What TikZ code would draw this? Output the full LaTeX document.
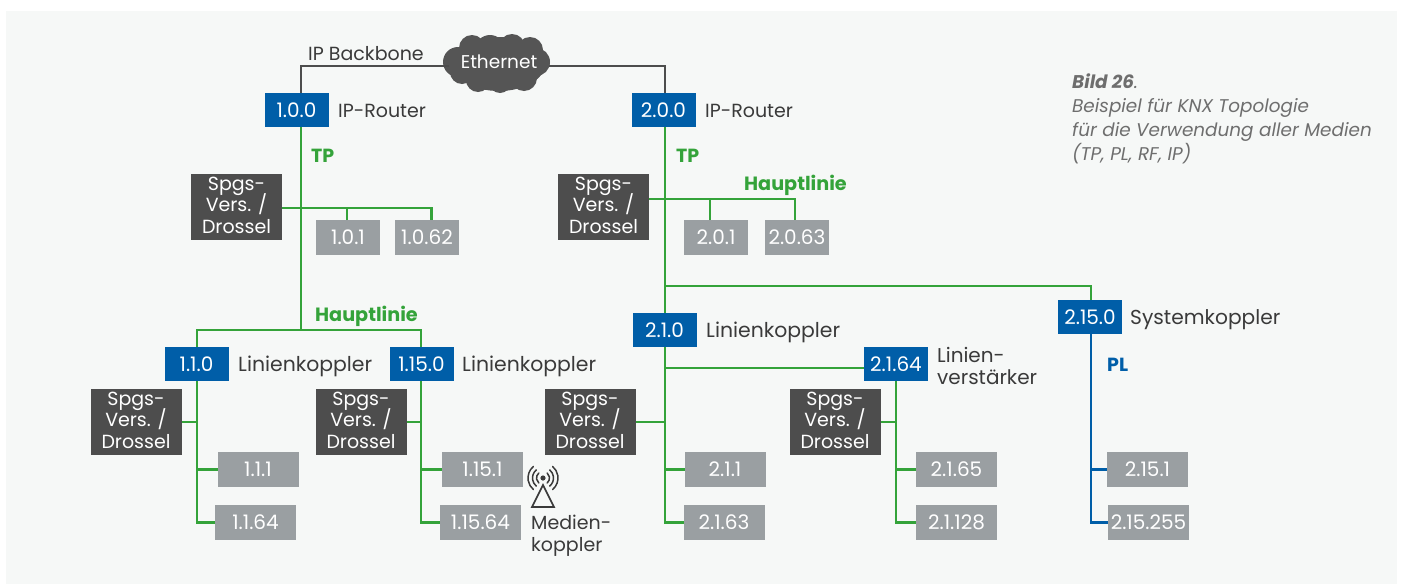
\documentclass[tikz,border=0pt]{standalone}
\usepackage{fontspec}
\setmainfont{Poppins}
\usetikzlibrary{calc}
\definecolor{bgc}{HTML}{F6F8F7}
\definecolor{bluec}{HTML}{005EA8}
\definecolor{darkc}{HTML}{4D4D4D}
\definecolor{greyc}{HTML}{9A9FA2}
\definecolor{greenc}{HTML}{34A33A}
\definecolor{textc}{HTML}{3A3A3A}
\definecolor{capc}{HTML}{6E6E6E}
\definecolor{cloudc}{HTML}{555555}
\newcommand{\fs}[2]{\fontsize{#1}{#2}\selectfont}
\newcommand{\tightl}{\lineskiplimit=-100pt\relax}
\tikzset{
  box/.style={inner sep=0pt,outer sep=0pt,text=white,align=center},
  bluebox/.style={box,fill=bluec,minimum width=64pt,minimum height=34pt,font=\fs{20}{22}},
  darkbox/.style={box,fill=darkc,minimum width=91pt,minimum height=66pt,font=\fs{19}{21.5}\tightl},
  greybox/.style={box,fill=greyc,minimum width=81pt,minimum height=35pt,font=\fs{20}{22}},
  smallgrey/.style={greybox,minimum width=64pt},
  lab/.style={anchor=west,inner sep=0pt,text=textc,font=\fs{19}{22}\tightl,align=left},
  klab/.style={lab,font=\fs{20.4}{22}},
  glab/.style={anchor=west,inner sep=0pt,text=greenc,font=\fs{19}{22}\bfseries},
  hlab/.style={anchor=west,inner sep=0pt,text=greenc,font=\fs{19.2}{22}\bfseries},
  gl/.style={draw=greenc,line width=2.8pt},
  bl/.style={draw=bluec,line width=2.8pt},
  kl/.style={draw=darkc,line width=2.4pt}
}
\newcommand{\spgs}{Spgs-\\Vers. /\\Drossel\rule[-4pt]{0pt}{4pt}}
\begin{document}
\begin{tikzpicture}[x=1pt,y=-1pt]
\useasboundingbox (0,0) rectangle (1403,584);
\fill[white] (0,0) rectangle (1403,584);
\fill[bgc] (6,11) rectangle (1397,584);

% cloud
\fill[cloudc] (499,64) ellipse (46pt and 27pt);
\foreach \cx/\cy/\cr in {458/62/15,472/48/13,490/50/15,512/47/13,530/50/13,536/62/14,524/78/13,500/82/11,478/80/12,462/72/12}
  \fill[cloudc] (\cx,\cy) circle (\cr pt);
\node[inner sep=0pt,outer sep=0pt,minimum width=100pt,minimum height=16pt,text=white,font=\fs{18.5}{20}] (eth) at (499,62) {Ethernet};

% blue boxes
\node[bluebox] (r1) at (296.5,110) {1.0.0};
\node[bluebox] (r2) at (663.5,110) {2.0.0};
\node[bluebox] (k11) at (196.5,364) {1.1.0};
\node[bluebox] (k115) at (421.5,364) {1.15.0};
\node[bluebox] (k21) at (664.5,330) {2.1.0};
\node[bluebox] (k264) at (896,364) {2.1.64};
\node[bluebox] (k215) at (1090,317) {2.15.0};

% dark boxes
\node[darkbox] (d1) at (236.5,207) {\spgs};
\node[darkbox] (d2) at (603.5,207) {\spgs};
\node[darkbox] (d3) at (136,422) {\spgs};
\node[darkbox] (d4) at (361,422) {\spgs};
\node[darkbox] (d5) at (590,422) {\spgs};
\node[darkbox] (d6) at (835,422) {\spgs};

% grey boxes
\node[smallgrey] (g101) at (348,237.5) {1.0.1};
\node[smallgrey] (g1062) at (427,237.5) {1.0.62};
\node[smallgrey] (g201) at (716,237.5) {2.0.1};
\node[smallgrey] (g2063) at (797,237.5) {2.0.63};
\node[greybox] (g111) at (258,469.5) {1.1.1};
\node[greybox] (g1164) at (255.5,522.5) {1.1.64};
\node[greybox] (g1151) at (482.5,469.5) {1.15.1};
\node[greybox] (g11564) at (480.5,522.5) {1.15.64};
\node[greybox] (g211) at (725,469.5) {2.1.1};
\node[greybox] (g2163) at (724,522.5) {2.1.63};
\node[greybox] (g2165) at (956.5,469.5) {2.1.65};
\node[greybox] (g21128) at (956.5,522.5) {2.1.128};
\node[greybox] (g2151) at (1147.5,469.5) {2.15.1};
\node[greybox] (g215255) at (1148.5,522.5) {2.15.255};

% spine coordinates
\coordinate (sa) at (301,0);
\coordinate (sb) at (665,0);
\coordinate (sc) at (197,0);
\coordinate (sd) at (421,0);
\coordinate (se) at (896,0);
\coordinate (sf) at (1091,0);
\coordinate (ya) at (0,66);
\coordinate (yb) at (0,330);
\coordinate (yc) at (0,208);
\coordinate (yd) at (0,199);
\coordinate (ye) at (0,286);
\coordinate (yf) at (0,368);
\coordinate (xa) at (347,0);
\coordinate (xb) at (431.5,0);
\coordinate (xc) at (710,0);
\coordinate (xd) at (795,0);

% backbone
\draw[kl] (eth.west |- ya) -- (sa |- ya) -- (sa |- r1.north);
\draw[kl] (eth.east |- ya) -- (sb |- ya) -- (sb |- r2.north);

% green lines, left part
\draw[gl] (sa |- r1.south) -- (sa |- yb);
\draw[gl] (sc |- k11.north) -- (sc |- yb) -- (sd |- yb) -- (sd |- k115.north);
\draw[gl] (d1.east |- yc) -- (xb |- yc) -- (xb |- g1062.north);
\draw[gl] (xa |- g101.north) -- (xa |- yc);
\draw[gl] (sc |- k11.south) -- (sc |- g1164.west) -- (g1164.west);
\draw[gl] (sc |- g111.west) -- (g111.west);
\draw[gl] (d3.east) -- (sc |- d3.east);
\draw[gl] (sd |- k115.south) -- (sd |- g11564.west) -- (g11564.west);
\draw[gl] (sd |- g1151.west) -- (g1151.west);
\draw[gl] (d4.east) -- (sd |- d4.east);

% green lines, middle part
\draw[gl] (sb |- r2.south) -- (sb |- k21.north);
\draw[gl] (d2.east |- yd) -- (xd |- yd) -- (xd |- g2063.north);
\draw[gl] (xc |- g201.north) -- (xc |- yd);
\draw[gl] (sb |- ye) -- (sf |- ye) -- (sf |- k215.north);
\draw[gl] (sb |- k21.south) -- (sb |- g2163.west) -- (g2163.west);
\draw[gl] (sb |- g211.west) -- (g211.west);
\draw[gl] (d5.east) -- (sb |- d5.east);
\draw[gl] (sb |- yf) -- (k264.west |- yf);
\draw[gl] (se |- k264.south) -- (se |- g21128.west) -- (g21128.west);
\draw[gl] (se |- g2165.west) -- (g2165.west);
\draw[gl] (d6.east) -- (se |- d6.east);

% blue line
\draw[bl] (sf |- k215.south) -- (sf |- g215255.west) -- (g215255.west);
\draw[bl] (sf |- g2151.west) -- (g2151.west);

% labels
\node[lab] (t1) at (308,53.5) {IP Backbone};
\node[lab] (t2) at (338,111) {IP-Router};
\node[lab] (t3) at (705,111) {IP-Router};
\node[glab] (t4) at (311,155.5) {TP};
\node[glab] (t5) at (676,155.5) {TP};
\node[hlab] (t6) at (744,185) {Hauptlinie};
\node[hlab] (t7) at (315,316) {Hauptlinie};
\node[klab] (t8) at (238,366) {Linienkoppler};
\node[klab] (t9) at (462,366) {Linienkoppler};
\node[klab] (t10) at (706,332) {Linienkoppler};
\node[lab,font=\fs{20}{22}\tightl] (t11) at (937,365.5) {Linien-\\verstärker};
\node[lab,font=\fs{20.2}{22}] (t12) at (1130,320) {Systemkoppler};
\node[anchor=west,inner sep=0pt,text=bluec,font=\fs{19}{22}\bfseries] (t13) at (1107,364.5) {PL};
\node[lab] (t14) at (531,536) {Medien-\\koppler};

% caption
\node[anchor=north west,inner sep=0pt,text=capc,align=left,font=\fs{18.4}{24}\itshape] (cap) at (1072,74) {\textbf{Bild 26}.\\Beispiel für KNX Topologie\\für die Verwendung aller Medien\\(TP, PL, RF, IP)};

% antenna
\coordinate (ant) at (543,478);
\fill[textc] (ant) circle (2.6pt);
\draw[draw=textc,line width=1.6pt,line join=miter] (543,485) -- (532,507) -- (554,507) -- cycle;
\foreach \cr in {6.5,10.5,15}{
  \draw[draw=textc,line width=1.5pt,line cap=round] ($(ant)+(-50:\cr pt)$) arc[start angle=-50,end angle=50,radius=\cr pt];
  \draw[draw=textc,line width=1.5pt,line cap=round] ($(ant)+(130:\cr pt)$) arc[start angle=130,end angle=230,radius=\cr pt];
}
\end{tikzpicture}
\end{document}
